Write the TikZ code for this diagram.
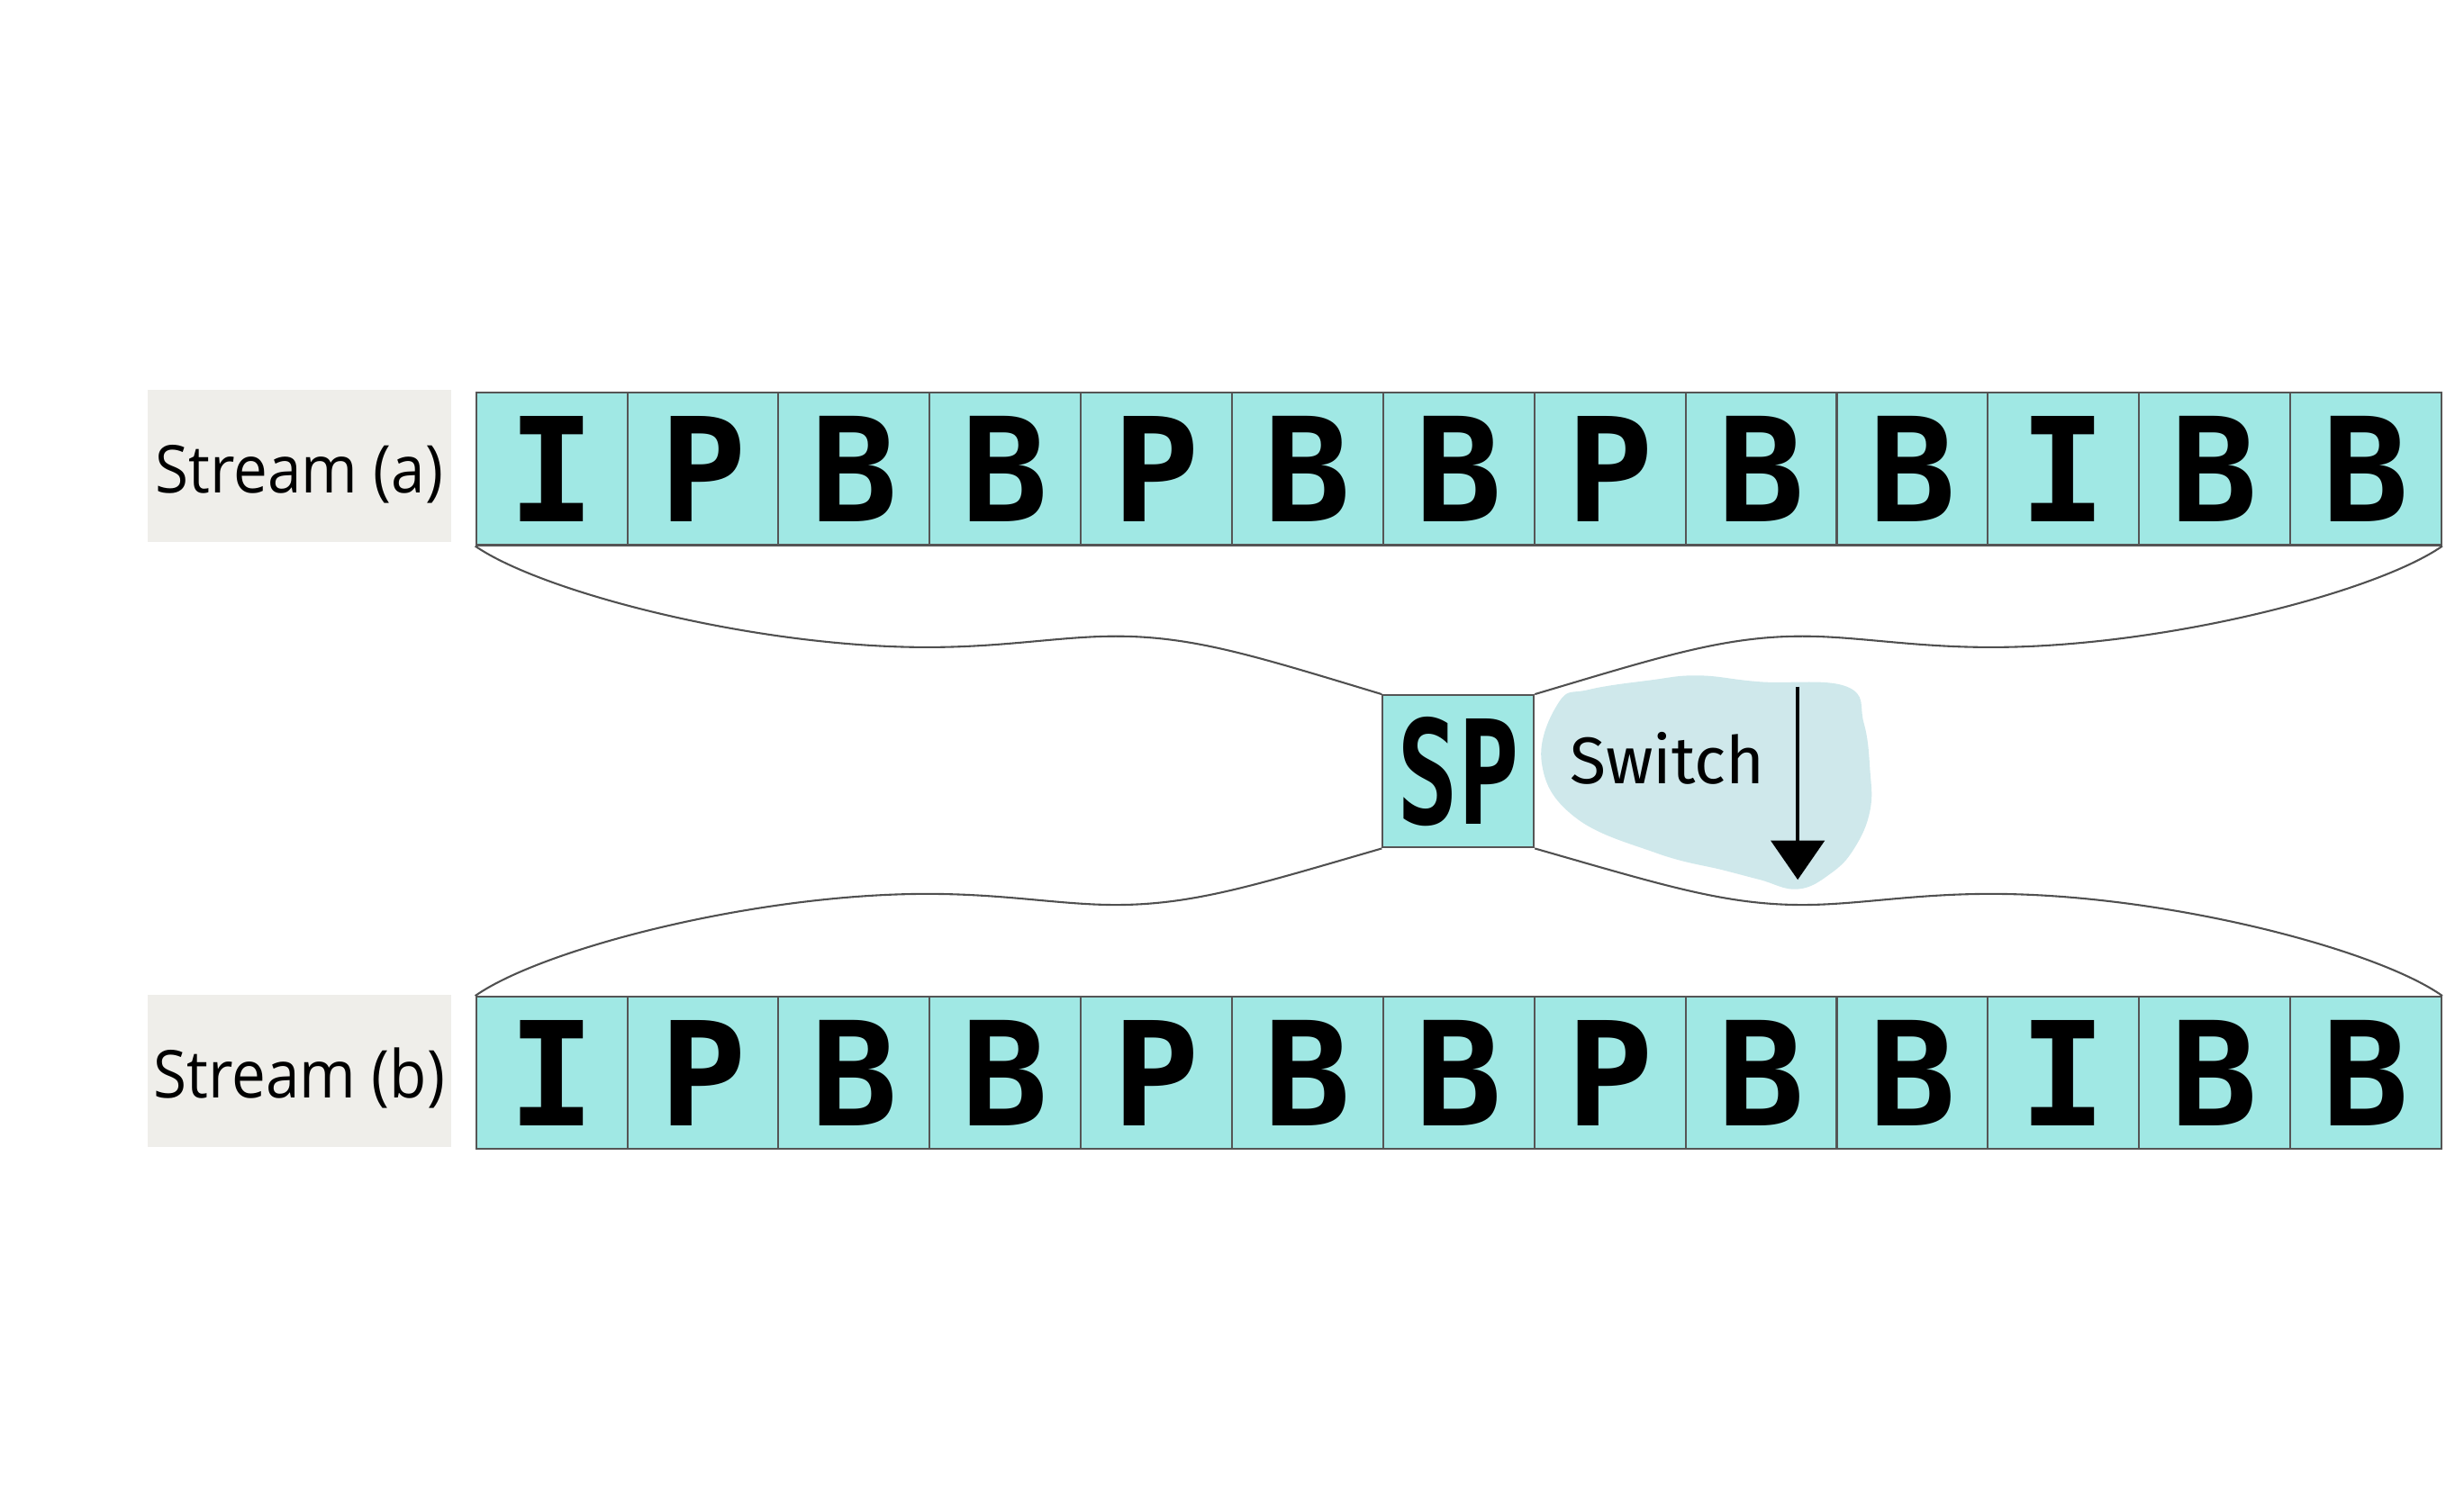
\documentclass[tikz,border=0pt]{standalone}
\usepackage{fontspec}
\setmainfont{Open Sans}
\newfontfamily\labfont{Open Sans}[FakeStretch=0.92]
\newfontfamily\letterfont{DejaVu Sans Mono}
\newfontfamily\handfont{Fira Sans}
\usetikzlibrary{arrows.meta}
\definecolor{cellfill}{RGB}{160,232,228}
\definecolor{cellline}{RGB}{85,85,85}
\definecolor{labfill}{RGB}{239,238,234}
\definecolor{blobfill}{RGB}{207,232,235}
\definecolor{linkcol}{RGB}{80,80,80}
\begin{document}
\begin{tikzpicture}[x=0.5pt,y=-0.5pt,
  cell/.style={draw=cellline, fill=cellfill, minimum width=48.1pt, minimum height=48.5pt, inner sep=0pt, line width=0.6pt, font=\letterfont\bfseries\fontsize{46}{48}\selectfont},
  lab/.style={fill=labfill, minimum width=96.5pt, minimum height=48.5pt, inner sep=0pt, text height=17.5pt, text depth=0pt, font=\labfont\fontsize{21}{24}\selectfont},
  link/.style={draw=linkcol, line width=0.6pt},
  hand/.style={font=\handfont\fontsize{21}{22}\selectfont, inner sep=0pt}]
\useasboundingbox (0,0) rectangle (1568,954);
% labels
\node[lab] (la) at (190.5,296.5) {Stream (a)};
\node[lab] (lb) at (190.5,681.5) {Stream (b)};
% rows
\foreach \l [count=\i] in {I,P,B,B,P,B,B,P,B,B,I,B,B}{
  \node[cell] (a\i) at ({303+96.2*(\i-0.5)},298.5) {\l};
  \node[cell] (b\i) at ({303+96.2*(\i-0.5)},683) {\l};
}
% switching picture
\node[cell] (sp) at (928,491) {\scalebox{0.7}[1]{SP}};
% blob
\fill[blobfill] plot[smooth cycle, tension=0.7] coordinates {(981,485) (992,447) (1011,439) (1050,433) (1081,430) (1120,434) (1175,437) (1186,460) (1190,490) (1190,516) (1180,540) (1165,556) (1144,566) (1120,560) (1097,554) (1054,543) (1002,520)};
\node[hand] (sw) at (1061,483) {Switch};
\coordinate (arrtop) at (1144,437);
\coordinate (arrtip) at (1144,560);
\draw[line width=1.2pt, -{Triangle[width=17pt,length=12.5pt]}] (arrtop) -- (arrtip);
% connecting curves
\draw[link] (a1.south west) .. controls (345,377) and (480,412) .. (590,412) .. controls (640,412) and (675,405) .. (710,405) .. controls (760,405) and (800,418) .. (sp.north west);
\draw[link] (a13.south east) .. controls (1512,377) and (1377,412) .. (1267,412) .. controls (1217,412) and (1182,405) .. (1147,405) .. controls (1097,405) and (1057,418) .. (sp.north east);
\draw[link] (b1.north west) .. controls (345,604) and (480,569) .. (590,569) .. controls (640,569) and (675,576) .. (710,576) .. controls (760,576) and (800,563) .. (sp.south west);
\draw[link] (b13.north east) .. controls (1512,604) and (1377,569) .. (1267,569) .. controls (1217,569) and (1182,576) .. (1147,576) .. controls (1097,576) and (1057,563) .. (sp.south east);
\end{tikzpicture}
\end{document}
